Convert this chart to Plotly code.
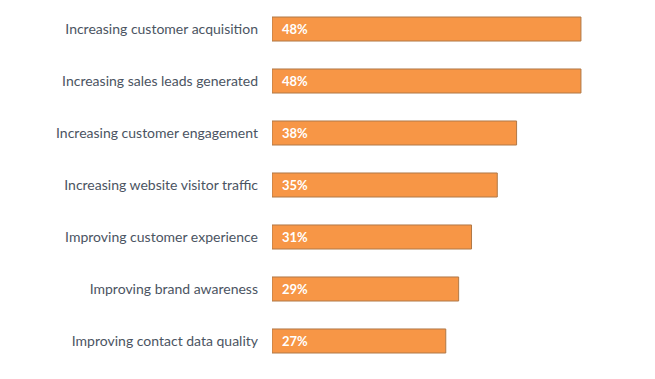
import plotly.graph_objects as go

categories = [
    "Increasing customer acquisition",
    "Increasing sales leads generated",
    "Increasing customer engagement",
    "Increasing website visitor traffic",
    "Improving customer experience",
    "Improving brand awareness",
    "Improving contact data quality",
]
values = [48, 48, 38, 35, 31, 29, 27]

fig = go.Figure()
fig.add_trace(go.Bar(
    y=list(range(len(categories))),
    x=values,
    orientation="h",
    marker=dict(color="#F79646", line=dict(color="#B07846", width=1)),
    hoverinfo="skip",
))

for i, v in enumerate(values):
    fig.add_annotation(
        x=0, y=i, xref="x", yref="y",
        text=f"<b>{v}%</b>",
        showarrow=False, xanchor="left", xshift=8,
        font=dict(family="Lato, Open Sans, sans-serif", size=13, color="white"),
    )

fig.update_layout(
    width=647, height=371,
    margin=dict(l=264, r=29, t=0, b=0),
    paper_bgcolor="white", plot_bgcolor="white",
    bargap=0.538,
    showlegend=False,
    xaxis=dict(range=[0, 55], visible=False, fixedrange=True),
    yaxis=dict(
        range=[6.731, -0.404],
        tickmode="array", tickvals=list(range(len(categories))), ticktext=categories,
        showgrid=False, zeroline=False, showline=False,
        ticks="", ticklabelstandoff=13,
        tickfont=dict(family="Lato, Open Sans, sans-serif", size=14, color="#4b5462"),
    ),
)

fig.write_html("out.html")
